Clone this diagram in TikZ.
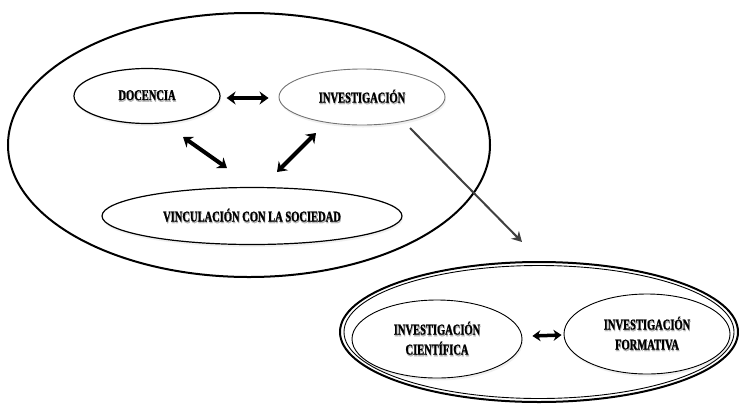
\documentclass[tikz,border=0pt]{standalone}
\usepackage{fontspec}
\setmainfont{Liberation Serif}
\newfontfamily\lblfont[BoldFeatures={FakeBold=1.2}]{Liberation Serif}
\usetikzlibrary{arrows.meta,shadows,shapes.geometric,calc}
\newcommand\shtx[1]{\scalebox{0.7}[1]{\rlap{\hspace{0.9pt}\raisebox{-1.6pt}{\color{black!30}#1}}#1}}
\tikzset{
  lbl/.style={font=\lblfont\bfseries\fontsize{15}{20}\selectfont, align=center, inner sep=0pt},
  oval/.style={ellipse, draw=black, line width=1.2pt, fill=white, inner sep=0pt,
     drop shadow={opacity=0.12, shadow xshift=1pt, shadow yshift=-2.5pt}},
  bigoval/.style={ellipse, draw=black, line width=2pt, inner sep=0pt},
  dbl/.style={line width=4pt, {Stealth[length=9pt,width=13pt]}-{Stealth[length=9pt,width=13pt]}},
  link/.style={draw=black!75, line width=2pt, -{Stealth[length=10pt,width=11pt]}}
}
\begin{document}
\begin{tikzpicture}[x=1pt,y=-1pt]
\useasboundingbox (0,0) rectangle (739,408);
% outer ellipses
\node[bigoval, minimum width=482pt, minimum height=264pt] (outer) at (249,145) {};
\node[bigoval, minimum width=398pt, minimum height=140pt] (outer2) at (539,332) {};
\node[bigoval, line width=0.9pt, minimum width=390pt, minimum height=133pt] (outer2in) at (539,332) {};
% inner ovals
\node[oval, minimum width=146pt, minimum height=55pt] (doc) at (147,96) {};
\node[oval, draw=black!55, line width=0.9pt, minimum width=166pt, minimum height=56pt] (inv) at (362,97) {};
\node[oval, minimum width=300pt, minimum height=57pt] (vin) at (252,216) {};
\node[oval, line width=0.9pt, minimum width=170pt, minimum height=78pt] (cie) at (437,339) {};
\node[oval, line width=0.9pt, minimum width=166pt, minimum height=80pt] (for) at (647,334) {};
% labels
\node[lbl] at (doc) {\shtx{DOCENCIA}};
\node[lbl] at (inv) {\shtx{INVESTIGACIÓN}};
\node[lbl] at (vin) {\shtx{VINCULACIÓN CON LA SOCIEDAD}};
\node[lbl] at (437,339) {\shtx{INVESTIGACIÓN}\\\shtx{CIENTÍFICA}};
\node[lbl] at (647,334) {\shtx{INVESTIGACIÓN}\\\shtx{FORMATIVA}};
% arrows
\draw[dbl] ($(doc.east)+(6,2)$) -- ($(inv.west)+(-10,1)$);
\coordinate (d1) at (183,137); \coordinate (d2) at (227,168);
\coordinate (e1) at (316,133); \coordinate (e2) at (277,172);
\draw[dbl] (d1) -- (d2);
\draw[dbl] (e1) -- (e2);
\coordinate (ls) at (410,128); \coordinate (le) at (522,242);
\draw[link] (ls) -- (le);
\draw[line width=3.5pt, {Stealth[length=8pt,width=11pt]}-{Stealth[length=8pt,width=11pt]}] ($(cie.east)+(10,-3)$) -- ($(for.west)+(-2,1)$);
\end{tikzpicture}
\end{document}
